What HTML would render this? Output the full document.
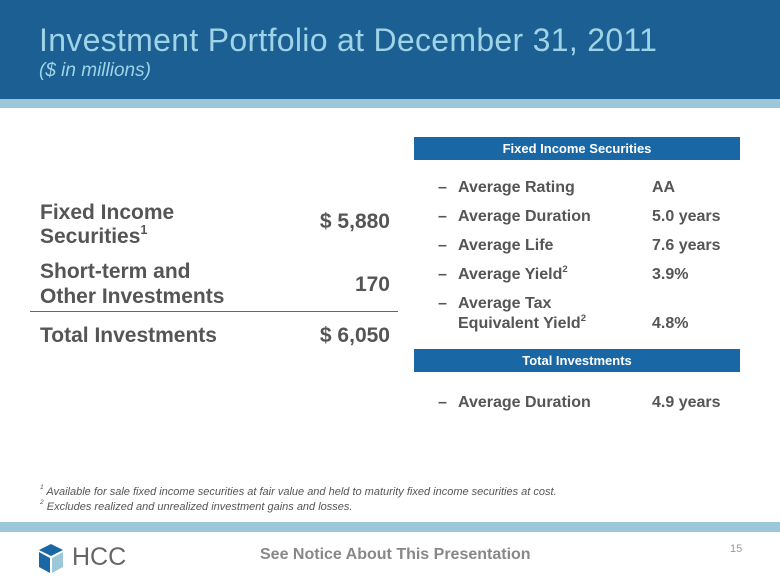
<!DOCTYPE html>
<html><head><style>
body{margin:0;width:780px;height:585px;position:relative;background:#fff;font-family:"Liberation Sans",sans-serif;overflow:hidden}
.a{position:absolute;white-space:nowrap;line-height:1}
.L{font-weight:bold;font-size:21px;color:#555}
.R{font-weight:bold;font-size:16px;color:#555}
.bx{position:absolute;left:414px;width:326px;height:23px;background:#1a67a6;color:#fff;font-weight:bold;font-size:13px;text-align:center;line-height:23px}
sup{font-size:60%;vertical-align:top;position:relative;top:-2px}
</style></head><body>
<div class="a" style="left:0;top:0;width:780px;height:99px;background:#1b5f93"></div>
<div class="a" style="left:0;top:99px;width:780px;height:9px;background:#9bc7d9"></div>
<div class="a" style="left:39px;top:24px;font-size:32px;color:#9fd3e6;letter-spacing:0.3px">Investment Portfolio at December 31, 2011</div>
<div class="a" style="left:39px;top:61px;font-size:19px;font-style:italic;color:#9fd3e6">($ in millions)</div>

<div class="a L" style="left:40px;top:202px">Fixed Income</div>
<div class="a L" style="left:40px;top:226px">Securities<sup>1</sup></div>
<div class="a L" style="right:390px;top:211px">$ 5,880</div>
<div class="a L" style="left:40px;top:261px">Short-term and</div>
<div class="a L" style="left:40px;top:286px">Other Investments</div>
<div class="a L" style="right:390px;top:274px">170</div>
<div class="a" style="left:30px;top:311px;width:368px;height:1px;background:#666"></div>
<div class="a L" style="left:40px;top:325px">Total Investments</div>
<div class="a L" style="right:390px;top:325px">$ 6,050</div>

<div class="bx" style="top:137px">Fixed Income Securities</div>
<div class="bx" style="top:349px">Total Investments</div>
<div class="a R" style="left:438px;top:180px">–</div><div class="a R" style="left:458px;top:180px">Average Rating</div><div class="a R" style="left:652px;top:180px">AA</div>
<div class="a R" style="left:438px;top:209px">–</div><div class="a R" style="left:458px;top:209px">Average Duration</div><div class="a R" style="left:652px;top:209px">5.0 years</div>
<div class="a R" style="left:438px;top:238px">–</div><div class="a R" style="left:458px;top:238px">Average Life</div><div class="a R" style="left:652px;top:238px">7.6 years</div>
<div class="a R" style="left:438px;top:267px">–</div><div class="a R" style="left:458px;top:267px">Average Yield<sup>2</sup></div><div class="a R" style="left:652px;top:267px">3.9%</div>
<div class="a R" style="left:438px;top:296px">–</div><div class="a R" style="left:458px;top:296px">Average Tax</div>
<div class="a R" style="left:458px;top:316px">Equivalent Yield<sup>2</sup></div><div class="a R" style="left:652px;top:316px">4.8%</div>
<div class="a R" style="left:438px;top:395px">–</div><div class="a R" style="left:458px;top:395px">Average Duration</div><div class="a R" style="left:652px;top:395px">4.9 years</div>

<div class="a" style="left:40px;top:487px;font-size:11px;font-style:italic;color:#555"><sup>1</sup> Available for sale fixed income securities at fair value and held to maturity fixed income securities at cost.</div>
<div class="a" style="left:40px;top:502px;font-size:11px;font-style:italic;color:#555"><sup>2</sup> Excludes realized and unrealized investment gains and losses.</div>
<div class="a" style="left:0;top:522px;width:780px;height:10px;background:#9bc7d9"></div>

<svg class="a" style="left:38px;top:544px" width="26" height="30" viewBox="0 0 26 30">
<polygon points="13,0 25,6 13,12 1,6" fill="#1a67a6"/>
<polygon points="1,8 12,14 12,29 1,23" fill="#1a67a6"/>
<polygon points="14,14 25,8 25,23 14,29" fill="#9bc7d9"/>
</svg>
<div class="a" style="left:72px;top:545px;font-size:25px;color:#666">HCC</div>
<div class="a" style="left:260px;top:547px;font-size:16px;font-weight:bold;color:#888">See Notice About This Presentation</div>
<div class="a" style="left:730px;top:544px;font-size:11px;color:#999">15</div>
</body></html>
